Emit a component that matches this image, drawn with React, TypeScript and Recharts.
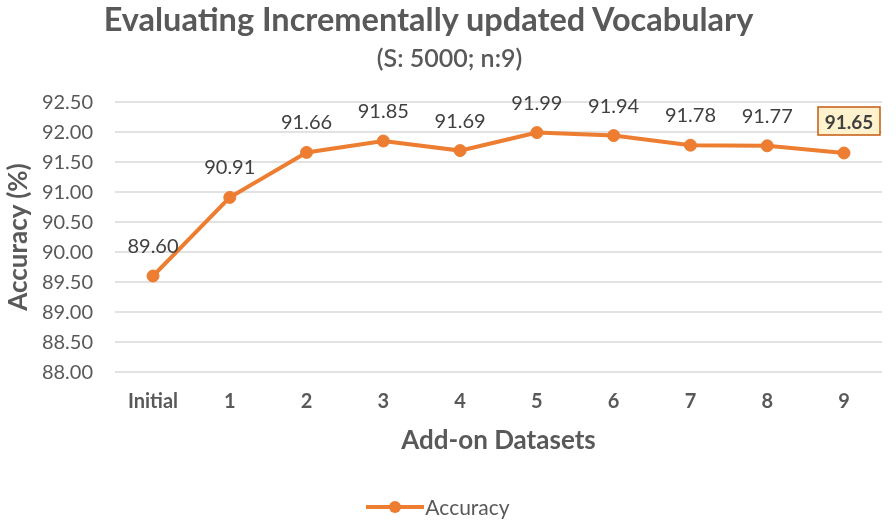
import React from 'react';
import { LineChart, Line, XAxis, YAxis, CartesianGrid, Legend, LabelList, Label } from 'recharts';

const categories = ['Initial', '1', '2', '3', '4', '5', '6', '7', '8', '9'];
const accuracy = [89.6, 90.91, 91.66, 91.85, 91.69, 91.99, 91.94, 91.78, 91.77, 91.65];
const yTicks = [88, 88.5, 89, 89.5, 90, 90.5, 91, 91.5, 92, 92.5];

const data = categories.map((c, i) => ({ name: c, accuracy: accuracy[i] }));

const FONT = 'Lato, "Open Sans", sans-serif';
const ORANGE = '#ED7D31';
const GREY = '#595959';

const PointLabel = (props: any) => {
    const { x, y, value, index } = props;
    const text = Number(value).toFixed(2);
    if (index === data.length - 1) {
        return (
            <g>
                <rect x={x - 26} y={y - 46} width={62} height={28} fill="#FFF2CC" stroke="#C55A11" strokeWidth={1.5} />
                <text x={x + 5} y={y - 32} textAnchor="middle" dominantBaseline="central" fontFamily={FONT} fontWeight="bold" fontSize={19} fill="#404040">
                    {text}
                </text>
            </g>
        );
    }
    return (
        <text x={x} y={y - 31} textAnchor="middle" dominantBaseline="central" fontFamily={FONT} fontSize={20} fill="#404040">
            {text}
        </text>
    );
};

const YTitle = (props: any) => {
    const { viewBox } = props;
    const cy = viewBox.y + viewBox.height / 2;
    return (
        <text x={17} y={cy} transform={`rotate(-90 17 ${cy})`} textAnchor="middle" dominantBaseline="central" fontFamily={FONT} fontSize={26} fontWeight="bold" fill={GREY}>
            Accuracy (%)
        </text>
    );
};

const LegendContent = () => (
    <div style={{ display: 'flex', justifyContent: 'center', alignItems: 'center', paddingTop: 42, paddingRight: 6, fontFamily: FONT, fontSize: 21, color: GREY }}>
        <svg width={58} height={16}>
            <line x1={0} y1={8} x2={58} y2={8} stroke={ORANGE} strokeWidth={4} />
            <circle cx={29} cy={8} r={6} fill={ORANGE} />
        </svg>
        <span style={{ marginLeft: 1 }}>Accuracy</span>
    </div>
);

const App = () => {
    return (
        <div style={{ position: 'fixed', top: 0, left: 0, width: 896, height: 526, background: '#fff' }}>
            <div style={{ position: 'absolute', top: -1, left: 0, width: 857, textAlign: 'center', fontFamily: FONT, fontWeight: 'bold', fontSize: 32.5, color: GREY }}>
                Evaluating Incrementally updated Vocabulary
            </div>
            <div style={{ position: 'absolute', top: 42, left: 0, width: 899, textAlign: 'center', fontFamily: FONT, fontWeight: 600, fontSize: 25, color: GREY }}>
                (S: 5000; n:9)
            </div>
            <LineChart width={896} height={526} data={data} margin={{ top: 102, right: 14, left: 0, bottom: 0 }}>
                <CartesianGrid horizontal vertical={false} stroke="#D9D9D9" strokeWidth={1.5} />
                <XAxis
                    dataKey="name"
                    axisLine={false}
                    tickLine={false}
                    tickSize={0}
                    tickMargin={22}
                    height={80}
                    interval={0}
                    padding={{ left: 38, right: 38 }}
                    tick={{ fill: GREY, fontFamily: FONT, fontSize: 20, fontWeight: 'bold' }}
                >
                    <Label value="Add-on Datasets" position="insideBottom" offset={3} fill={GREY} fontFamily={FONT} fontSize={26} fontWeight="bold" />
                </XAxis>
                <YAxis
                    domain={[88, 92.5]}
                    ticks={yTicks}
                    width={115}
                    axisLine={false}
                    tickLine={false}
                    tickSize={0}
                    tickMargin={22}
                    tickFormatter={(v: number) => v.toFixed(2)}
                    tick={{ fill: GREY, fontFamily: FONT, fontSize: 20 }}
                >
                    <Label content={<YTitle />} />
                </YAxis>
                <Legend verticalAlign="bottom" height={74} content={<LegendContent />} />
                <Line
                    type="linear"
                    dataKey="accuracy"
                    name="Accuracy"
                    stroke={ORANGE}
                    strokeWidth={4}
                    dot={{ r: 6, fill: ORANGE, stroke: ORANGE, strokeWidth: 1 }}
                    isAnimationActive={false}
                >
                    <LabelList dataKey="accuracy" content={<PointLabel />} />
                </Line>
            </LineChart>
        </div>
    );
};

export default App;
